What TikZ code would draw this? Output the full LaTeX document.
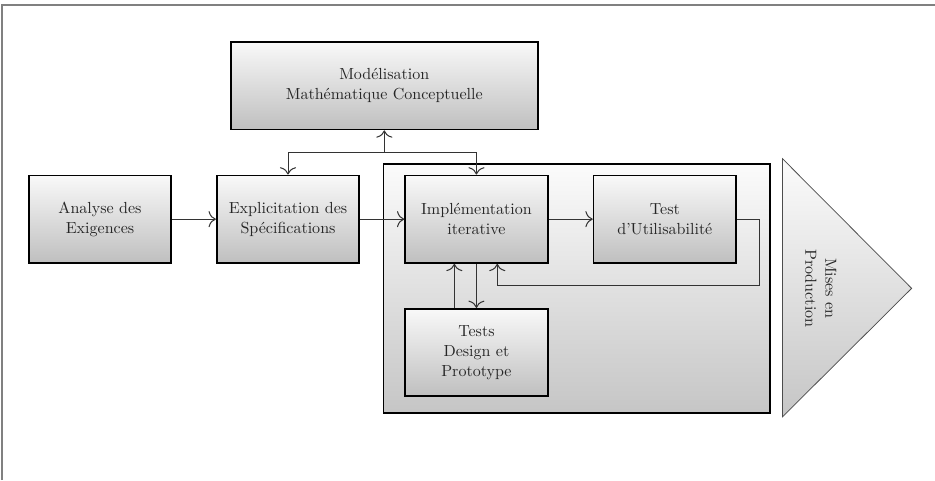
\documentclass[tikz,border=0pt]{standalone}
\usepackage{tikz}
\usetikzlibrary{arrows.meta,positioning,calc,fit,backgrounds}

\tikzset{
  stage/.style={draw=black,line width=1.2pt,top color=white!95!gray,bottom color=gray!50,
    minimum width=3.42cm,minimum height=2.1cm,align=center,text=black!85},
  link/.style={draw=black!80,line width=0.55pt,-{To[length=5pt,width=11pt,line width=0.7pt]}},
  frame/.style={draw=gray,line width=1.3pt}
}

\begin{document}
\begin{tikzpicture}[node distance=1.06cm,font=\fontsize{10.95pt}{13.6pt}\selectfont]
\useasboundingbox (0,0) rectangle (22.44,11.52);
\draw[frame] (0.05,0) |- (22.44,11.4);

\node[stage] (analyse) at (2.4,6.26) {Analyse des\\Exigences};
\node[stage, right=1.05cm of analyse] (expl) {Explicitation des\\Sp\'ecifications};
\node[stage, right=of expl] (impl) {Impl\'ementation\\iterative};
\node[stage, right=of impl] (test) {Test\\d'Utilisabilit\'e};
\node[stage, below=of impl] (tests) {Tests\\Design et\\Prototype};
\coordinate (mid) at ($(expl.north)!0.5!(impl.north)+(0.05,0)$);
\node[stage, minimum width=7.36cm, above=of mid] (mod) {Mod\'elisation\\Math\'ematique Conceptuelle};

\begin{scope}[on background layer]
\node[draw=black,line width=1.2pt,top color=white!97!gray,bottom color=gray!45,inner sep=0pt,
  fit={($(impl.north west)+(-0.5,0.26)$) ($(tests.south -| test.east)+(0.79,-0.38)$)}] (box) {};
\end{scope}

% Mises en production
\draw[draw=black!70,line width=0.5pt,top color=white!97!gray,bottom color=gray!45]
  ($(box.north east)+(0.28,0.1)$) -- ($(box.east)+(3.38,0)$) -- ($(box.south east)+(0.28,-0.07)$) -- cycle;
\node[rotate=-90,align=center,text=black!85] (prod) at ($(box.east)+(1.2,0)$) {Mises en\\Production};

\draw[link] (analyse) -- (expl);
\draw[link] (expl) -- (impl);
\draw[link] (impl) -- (test);
\coordinate (junc) at ($(mod.south)!0.5!(mid)$);
\draw[link] (junc) -- (mod.south);
\draw[link] (junc) -| (expl.north);
\draw[link] (junc) -| (impl.north);
\draw[link] (impl.south) -- (tests.north);
\draw[link] ($(tests.north)+(-0.53,0)$) -- ($(impl.south)+(-0.53,0)$);
\draw[link] (test.east) -- ++(0.53,0) |- ($(impl.south)+(0.5,-0.53)$) -- ++(0,0.53);
\end{tikzpicture}
\end{document}
